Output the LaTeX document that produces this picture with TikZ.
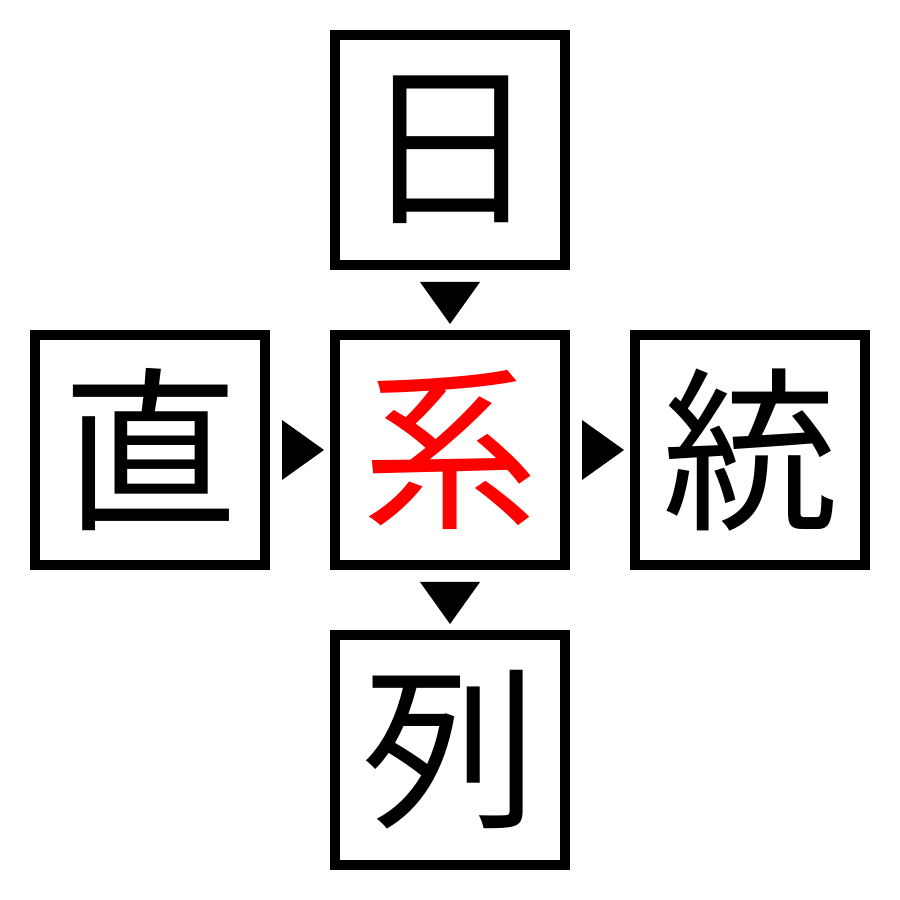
\documentclass[tikz,border=0pt]{standalone}
\usepackage{fontspec}
\newfontfamily\cjk{Noto Sans CJK JP}
\usetikzlibrary{positioning,calc}

\tikzset{
    kanji/.style={draw,line width=1mm,minimum size=23mm,inner sep=0pt,outer sep=0pt,
        font=\cjk\fontsize{50}{50}\selectfont},
    pointer/.style={fill=black,draw=none}
}

\begin{document}
\begin{tikzpicture}
    \useasboundingbox (0,0) rectangle (9,9);
    \node[kanji,text=red] (mid) at (4.5,4.5) {系};
    \node[kanji] (top) at (4.5,7.5) {日};
    \node[kanji] (bot) at (4.5,1.5) {列};
    \node[kanji] (lft) at (1.5,4.5) {直};
    \node[kanji] (rgt) at (7.5,4.5) {統};
    % downward pointers
    \foreach \a/\b in {top/mid, mid/bot} {
        \fill[pointer] ($(\a.south)+(-0.3,-0.17)$) -- ++(0.6,0) -- ($(\b.north)+(0,0.11)$) -- cycle;
    }
    % rightward pointers
    \foreach \a/\b in {lft/mid, mid/rgt} {
        \fill[pointer] ($(\a.east)+(0.17,0.3)$) -- ++(0,-0.6) -- ($(\b.west)+(-0.11,0)$) -- cycle;
    }
\end{tikzpicture}
\end{document}
